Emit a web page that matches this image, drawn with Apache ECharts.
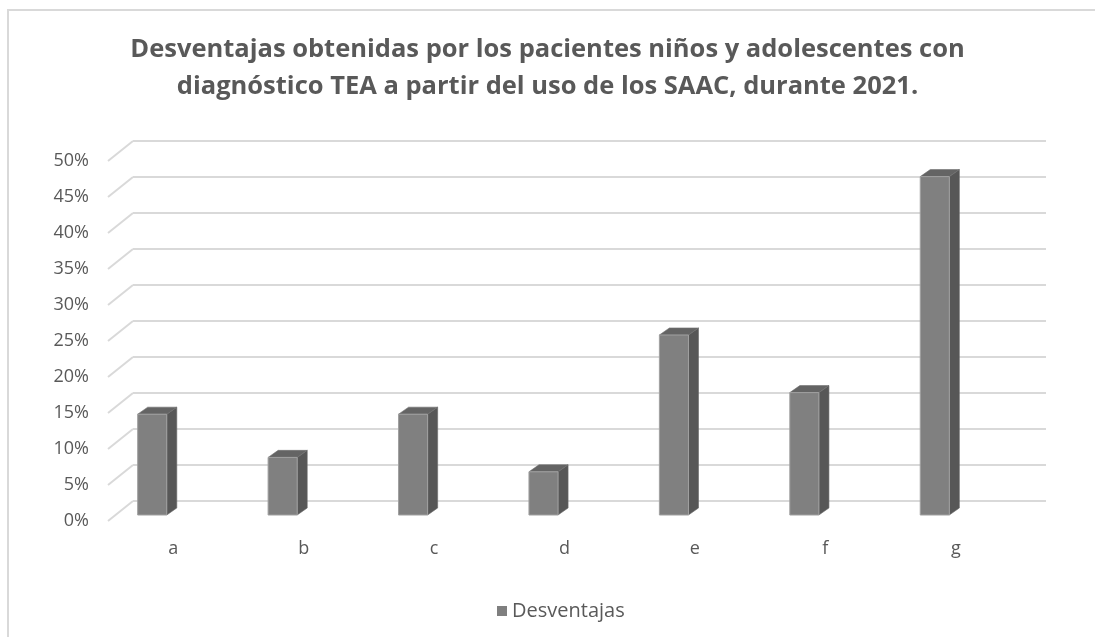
<!DOCTYPE html>
<html><head><meta charset="utf-8">
<script src="https://cdn.jsdelivr.net/npm/echarts@6/dist/echarts.min.js"></script>
<style>html,body{margin:0;padding:0;background:#fff}#c{width:1095px;height:637px}</style>
</head><body><div id="c"></div>
<script>
const categories = ['a', 'b', 'c', 'd', 'e', 'f', 'g'];
const values = [0.14, 0.08, 0.14, 0.06, 0.25, 0.17, 0.47];
const yTicks = [0, 0.05, 0.10, 0.15, 0.20, 0.25, 0.30, 0.35, 0.40, 0.45, 0.50];
const seriesName = 'Desventajas';
const titleText = 'Desventajas obtenidas por los pacientes niños y adolescentes con\ndiagnóstico TEA a partir del uso de los SAAC, durante 2021.';

const FONT = 'Open Sans';
const TXT = '#595959';
const GRID_C = '#d9d9d9';
const depthDx = 25, depthDy = 20;

const chart = echarts.init(document.getElementById('c'), null, {renderer: 'canvas'});

function renderDiag(params, api) {
  const v = api.value(1);
  const cs = params.coordSys;
  const p = api.coord([0, v]);
  return {
    type: 'line', silent: true,
    shape: {x1: cs.x, y1: p[1], x2: cs.x - depthDx, y2: p[1] + depthDy},
    style: {stroke: GRID_C, lineWidth: 2}
  };
}

function renderBar(params, api) {
  const i = api.value(0), v = api.value(1);
  const base = api.coord([i, 0]);
  const top = api.coord([i, v]);
  const band = api.size([1, 0])[0];
  const w = band * 0.223;
  const dx = band * 0.077, dy = -band * 0.054;
  const x0 = base[0] - w / 2, x1 = base[0] + w / 2;
  const yb = base[1], yt = top[1];
  return {
    type: 'group',
    children: [
      {type: 'polygon', shape: {points: [[x1, yb], [x1 + dx, yb + dy], [x1 + dx, yt + dy], [x1, yt]]},
        style: {fill: '#575757', stroke: '#6a6a6a', lineWidth: 0.6}},
      {type: 'polygon', shape: {points: [[x0, yt], [x0 + dx, yt + dy], [x1 + dx, yt + dy], [x1, yt]]},
        style: {fill: '#646464', stroke: '#6f6f6f', lineWidth: 0.6}},
      {type: 'rect', shape: {x: x0, y: yt, width: w, height: yb - yt},
        style: {fill: '#808080', stroke: '#a0a0a0', lineWidth: 1}}
    ]
  };
}

const yBase = {type: 'value', min: 0, max: 0.5, interval: 0.05};

const option = {
  animation: false,
  backgroundColor: '#ffffff',
  graphic: [{
    type: 'rect', silent: true, z: -10,
    shape: {x: 8, y: 10, width: 1200, height: 700},
    style: {fill: 'none', stroke: GRID_C, lineWidth: 2}
  }],
  title: {
    text: titleText, left: 'center', top: 26, padding: [5, 5, 5, 17],
    textStyle: {fontFamily: FONT, fontWeight: 'bold', fontSize: 25.5, color: TXT, lineHeight: 37}
  },
  legend: {
    data: [seriesName], left: 492, top: 596, icon: 'rect', itemWidth: 10, itemHeight: 10,
    textStyle: {fontFamily: FONT, fontSize: 20, color: TXT}
  },
  grid: [
    {left: 133, top: 141, width: 913, height: 360},
    {left: 133 - depthDx, top: 141 + depthDy, width: 913, height: 360},
    {left: 87, top: 155, width: 913, height: 360}
  ],
  xAxis: [
    {gridIndex: 0, type: 'category', data: categories, show: false},
    {gridIndex: 1, type: 'category', data: categories,
      axisLine: {show: false}, axisTick: {show: false}, splitLine: {show: false},
      axisLabel: {margin: 19, fontFamily: FONT, fontSize: 18, color: TXT}},
    {gridIndex: 2, type: 'category', data: categories, show: false}
  ],
  yAxis: [
    Object.assign({}, yBase, {gridIndex: 0, axisLine: {show: false}, axisTick: {show: false},
      axisLabel: {show: false}, splitLine: {show: true, lineStyle: {color: GRID_C, width: 2}}}),
    Object.assign({}, yBase, {gridIndex: 1, axisLine: {show: false}, axisTick: {show: false},
      splitLine: {show: false},
      axisLabel: {margin: 19, fontFamily: FONT, fontSize: 18, color: TXT,
        formatter: v => Math.round(v * 100) + '%'}}),
    Object.assign({}, yBase, {gridIndex: 2, show: false, splitLine: {show: false}})
  ],
  series: [
    {type: 'custom', name: 'diag', silent: true, xAxisIndex: 0, yAxisIndex: 0,
      data: yTicks.map(v => [0, v]), encode: {x: 0, y: 1}, renderItem: renderDiag, z: 1},
    {type: 'custom', name: seriesName, xAxisIndex: 2, yAxisIndex: 2,
      itemStyle: {color: '#7f7f7f'},
      data: values.map((v, i) => [i, v]), encode: {x: 0, y: 1}, renderItem: renderBar, z: 5}
  ]
};
chart.setOption(option);
</script>
</body></html>
